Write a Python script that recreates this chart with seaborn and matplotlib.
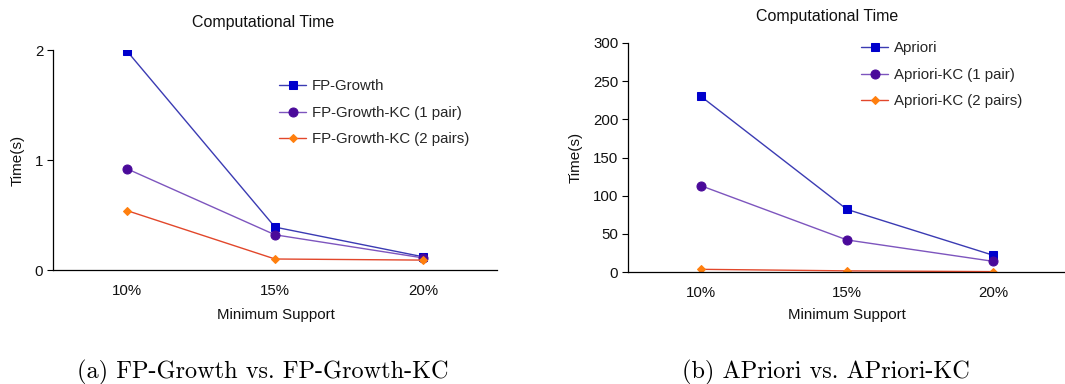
import matplotlib
matplotlib.use("Agg")
import matplotlib.pyplot as plt
import seaborn as sns
from matplotlib.ticker import FixedLocator

# data
support = ["10%", "15%", "20%"]

fp_growth = [1.99, 0.39, 0.12]
fp_growth_kc1 = [0.92, 0.32, 0.11]
fp_growth_kc2 = [0.54, 0.10, 0.09]

apriori = [230, 82, 22]
apriori_kc1 = [113, 42, 14]
apriori_kc2 = [3.5, 1.5, 0.5]

left_names = ["FP-Growth", "FP-Growth-KC (1 pair)", "FP-Growth-KC (2 pairs)"]
right_names = ["Apriori", "Apriori-KC (1 pair)", "Apriori-KC (2 pairs)"]

# line colour, marker colour, marker, marker size
styles = [
    ("#3B3BB3", "#0000CC", "s", 6),
    ("#7D55BE", "#4A0A9A", "o", 6.5),
    ("#E2472B", "#FF7F0E", "D", 4.5),
]

sns.set_theme(style="white")
plt.rcParams["font.family"] = ["Liberation Sans", "DejaVu Sans"]

W, H = 1065, 384
fig = plt.figure(figsize=(W / 100, H / 100), dpi=100)
txt = "#111111"


def px_axes(x0, x1, ytop, ybot):
    return fig.add_axes([x0 / W, 1 - ybot / H, (x1 - x0) / W, (ybot - ytop) / H])


def draw(ax, series, names, ymax, yticks):
    for vals, name, (lc, mc, mk, ms) in zip(series, names, styles):
        sns.lineplot(x=support, y=vals, ax=ax, color=lc, linewidth=1.0,
                     marker=mk, markersize=ms, markerfacecolor=mc,
                     markeredgecolor=mc, label=name)
    ax.set_xlim(-0.5, 2.5)
    ax.set_ylim(0, ymax)
    ax.set_yticks(yticks)
    ax.xaxis.set_minor_locator(FixedLocator([-0.5, 0.5, 1.5, 2.5]))
    ax.tick_params(axis="x", which="major", length=0, pad=10, labelsize=10.8, colors=txt)
    ax.tick_params(axis="x", which="minor", length=4, width=0.8, color="black", direction="out")
    ax.tick_params(axis="y", length=4, width=0.8, color="black", direction="out",
                   left=True, labelsize=10.8, labelcolor=txt, pad=3)
    for s in ["top", "right"]:
        ax.spines[s].set_visible(False)
    for s in ["left", "bottom"]:
        ax.spines[s].set_color("black")
        ax.spines[s].set_linewidth(0.9)
    ax.set_xlabel("Minimum Support", fontsize=10.8, color=txt)
    ax.set_ylabel("Time(s)", fontsize=11, color=txt)
    ax.patch.set_alpha(0)


leg_kw = dict(bbox_transform=fig.transFigure, frameon=False, fontsize=10.8,
              borderpad=0, borderaxespad=0, handlelength=1.8, handletextpad=0.4,
              labelspacing=0.85, loc="upper left")

ax1 = px_axes(53, 497, 50, 270)
draw(ax1, [fp_growth, fp_growth_kc1, fp_growth_kc2], left_names, 2, [0, 1, 2])
ax1.xaxis.set_label_coords(0.502, -0.175)
ax1.yaxis.set_label_coords(-0.063, 0.5)
ax1.legend(bbox_to_anchor=(279 / W, 1 - 79 / H), **leg_kw)

ax2 = px_axes(628, 1066, 43, 272)
draw(ax2, [apriori, apriori_kc1, apriori_kc2], right_names, 300, range(0, 301, 50))
ax2.xaxis.set_label_coords(0.5, -0.158)
ax2.yaxis.set_label_coords(-0.103, 0.502)
ax2.legend(bbox_to_anchor=(861 / W, 1 - 41 / H), **leg_kw)

fig.text(263 / W, 1 - 23 / H, "Computational Time", ha="center", va="center",
         fontsize=11.5, color=txt)
fig.text(827 / W, 1 - 17 / H, "Computational Time", ha="center", va="center",
         fontsize=11.5, color=txt)

fig.text(263 / W, 1 - 372 / H, "(a) FP-Growth vs. FP-Growth-KC", ha="center",
         va="center", fontsize=17.5, family="cmr10", color="black")
fig.text(826 / W, 1 - 372 / H, "(b) APriori vs. APriori-KC", ha="center",
         va="center", fontsize=17.5, family="cmr10", color="black")

fig.savefig("out.png", dpi=100, facecolor="white")
